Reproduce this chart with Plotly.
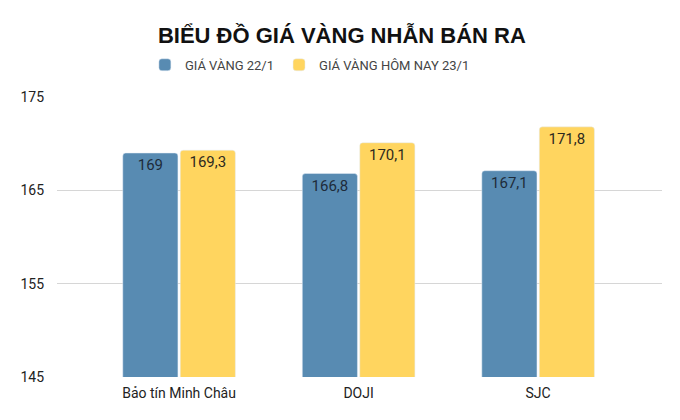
import plotly.graph_objects as go

categories = ["Bảo tín Minh Châu", "DOJI", "SJC"]
gia_22 = [169, 166.8, 167.1]
gia_23 = [169.3, 170.1, 171.8]
y_ticks = [145, 155, 165, 175]


def label(v):
    # keep the comma decimal used in the source
    return f"{v:g}".replace(".", ",")


fig = go.Figure()
fig.add_trace(
    go.Bar(
        x=categories,
        y=gia_22,
        name="GIÁ VÀNG 22/1",
        marker=dict(color="#588bb2", cornerradius=3),
        text=[label(v) for v in gia_22],
        textposition="inside",
        insidetextanchor="end",
        textfont=dict(family="Roboto", size=15, color="#1e2b3a"),
        hoverinfo="skip",
    )
)
fig.add_trace(
    go.Bar(
        x=categories,
        y=gia_23,
        name="GIÁ VÀNG HÔM NAY 23/1",
        marker=dict(color="#ffd55f", cornerradius=3),
        text=[label(v) for v in gia_23],
        textposition="inside",
        insidetextanchor="end",
        textfont=dict(family="Roboto", size=15, color="#2e2a1e"),
        hoverinfo="skip",
    )
)

# the page adds an 8px body margin, so the margins are shifted to compensate
fig.update_layout(
    width=680,
    height=420,
    margin=dict(l=44, r=26, t=89, b=51),
    paper_bgcolor="white",
    plot_bgcolor="white",
    barmode="group",
    bargap=0.36,
    bargroupgap=0.04,
    title=dict(
        text="<b>BIỂU ĐỒ GIÁ VÀNG NHẪN BÁN RA</b>",
        x=0.491,
        xanchor="center",
        y=0.936,
        yanchor="middle",
        font=dict(family="Liberation Sans", size=22, color="#111111"),
    ),
    legend=dict(
        orientation="h",
        x=0.418,
        xanchor="center",
        y=1.115,
        yanchor="middle",
        font=dict(family="Roboto", size=13, color="#444444"),
        traceorder="normal",
    ),
    font=dict(family="Roboto", color="#333333"),
    uniformtext=dict(mode="show", minsize=13),
)

fig.update_xaxes(
    range=[-0.68, 2.69],
    showgrid=False,
    showline=False,
    ticks="",
    ticklabelstandoff=6,
    tickfont=dict(family="Roboto", size=14, color="#222222"),
)
fig.update_yaxes(
    range=[145, 175],
    tickvals=y_ticks,
    showgrid=True,
    gridcolor="#d6d6d6",
    gridwidth=1,
    zeroline=False,
    showline=False,
    ticks="",
    ticklabelstandoff=12,
    tickfont=dict(family="Roboto", size=14, color="#222222"),
)

fig.write_html("out.html")
